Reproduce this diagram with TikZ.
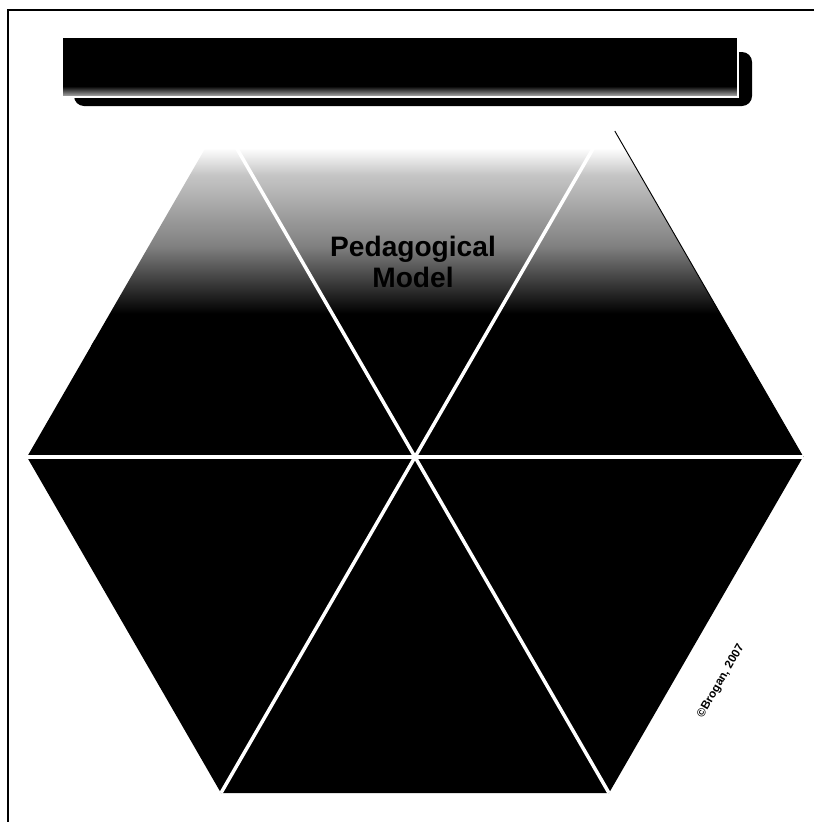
\documentclass[tikz,border=0pt]{standalone}
\usepackage{fontspec}
\setsansfont{Liberation Sans}
\usetikzlibrary{calc}
% top of the hexagon fades out to white
\pgfdeclareverticalshading{topfade}{100bp}{color(0bp)=(black); color(25bp)=(black); color(32bp)=(black); color(47bp)=(gray); color(63bp)=(gray!45); color(69bp)=(white); color(100bp)=(white)}
% banner: black with a grey strip at its foot
\pgfdeclareverticalshading{barfade}{100bp}{color(0bp)=(gray!55); color(25bp)=(gray!55); color(34bp)=(black); color(100bp)=(black)}
\tikzset{
  frameline/.style={
    draw=black,
    line width=1.2pt
  },
  banner/.style={
    rectangle,
    shading=barfade,
    draw=white,
    line width=1pt,
    minimum width=202.8mm,
    minimum height=18mm,
    inner sep=0pt
  },
  bannershadow/.style={
    rectangle,
    rounded corners=3mm,
    fill=black,
    minimum width=203.4mm,
    minimum height=16.2mm,
    inner sep=0pt
  },
  divider/.style={
    draw=white,
    line width=3pt
  },
  hextitle/.style={
    font=\fontsize{24}{27}\selectfont\sffamily\bfseries,
    text=black,
    align=center
  },
  credit/.style={
    font=\fontsize{10}{12}\selectfont\sffamily\bfseries,
    text=black,
    rotate=60
  }
}
\begin{document}
\begin{tikzpicture}[x=0.3mm,y=-0.3mm]
\useasboundingbox (0,0) rectangle (814,822);
% frame
\draw[frameline] (814,10) -- (8,10) -- (8,822);

% banner and its shadow
\node[bannershadow] (shadow) at (413,79) {};
\node[banner] (banner) at (400,67) {};

% hexagon
\coordinate (c) at (415,457);
\foreach \a in {0,60,...,300} \coordinate (v\a) at ($(c)+(\a:388)$);
\begin{scope}
  \clip (v0) -- (v60) -- (v120) -- (v180) -- (v240) -- (v300) -- cycle;
  \fill[black] (0,340) rectangle (814,822);
  \shade[shading=topfade] (0,121) rectangle (814,345);
\end{scope}
\draw[black,line width=0.8pt] ($(v300)!0.03!(v0)$) -- (v0);
\foreach \a in {0,60,...,300} \draw[divider] (c) -- (v\a);

% labels
\node[hextitle] (title) at (413,262) {Pedagogical\\Model};
\node[credit] (credit) at (721,681) {\textcopyright Brogan, 2007};
\end{tikzpicture}
\end{document}
